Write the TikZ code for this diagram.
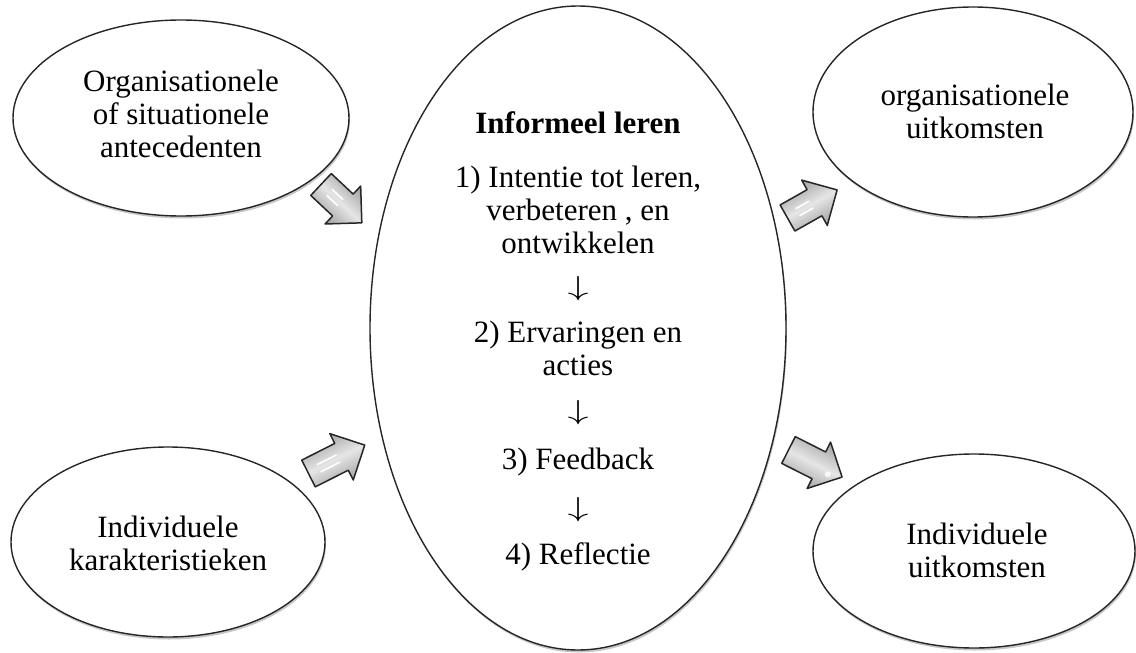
\documentclass[tikz,border=0pt]{standalone}
\usepackage{fontspec}
\setmainfont{Liberation Serif}
\usetikzlibrary{shapes.geometric,shadows,calc}

\tikzset{
  bubble/.style={ellipse, draw=black!85, line width=1.4pt, fill=white, inner sep=0pt,
    drop shadow={shadow xshift=1pt, shadow yshift=-2.5pt, opacity=0.22, fill=black}},
  lbl/.style={align=center, font=\fontsize{31}{33}\selectfont, inner sep=0pt, anchor=base},
  darr/.style={inner sep=0pt, anchor=center},
  blk/.style={draw=black!85, line width=1.5pt, line join=round,
    top color=black!38, bottom color=black!38, middle color=black!10},
  hl/.style={white, line width=1.6pt, line cap=round},
}

\newcommand{\blockarrow}[4]{% tail coordinate, angle, length, stripes (1/0)
  \begin{scope}[shift={(#1)}, rotate=#2]
    \draw[blk, shading angle=#2]
      (0,-15) -- (#3-26,-15) -- (#3-26,-26) -- (#3,0) -- (#3-26,26) -- (#3-26,15) -- (0,15) -- cycle;
    \ifnum#4=1
      \draw[hl] (12,-4) -- (#3-30,-4);
      \draw[hl] (12,4) -- (#3-30,4);
    \else
      \fill[white, opacity=0.8] (#3-14,4) circle (3);
    \fi
  \end{scope}}

\newcommand{\dnarrow}{\resizebox{21pt}{19pt}{$\downarrow$}}

\begin{document}
\begin{tikzpicture}[x=1pt,y=-1pt]
\useasboundingbox (0,0) rectangle (1136,653);

% ellipses
\node[bubble, minimum width=416pt, minimum height=644pt] (c) at (578,328) {};
\node[bubble, minimum width=336pt, minimum height=196pt] (tl) at (181,118) {};
\node[bubble, minimum width=314pt, minimum height=190pt] (bl) at (168,542) {};
\node[bubble, minimum width=320pt, minimum height=210pt] (tr) at (973,112) {};
\node[bubble, minimum width=322pt, minimum height=194pt] (br) at (974,551) {};

% texts (anchor = baseline of the last line)
\node[lbl] (tlt) at (181,157) {Organisationele\\of situationele\\antecedenten};
\node[lbl] (blt) at (168,570) {Individuele\\karakteristieken};
\node[lbl] (trt) at (975,138) {organisationele\\uitkomsten};
\node[lbl] (brt) at (977,577) {Individuele\\uitkomsten};

\node[lbl, font=\fontsize{31}{33}\selectfont\bfseries] (title) at (578,133) {Informeel leren};
\node[lbl] (i1) at (578,253) {1) Intentie tot leren,\\verbeteren , en\\ontwikkelen};
\node[darr] (d1) at (578,289) {\dnarrow};
\node[lbl] (i2) at (578,375) {2) Ervaringen en\\acties};
\node[darr] (d2) at (578,413) {\dnarrow};
\node[lbl] (i3) at (578,469) {3) Feedback};
\node[darr] (d3) at (578,510) {\dnarrow};
\node[lbl] (i4) at (578,564) {4) Reflectie};

% block arrows
\coordinate (a1) at (321,184.5);
\coordinate (a2) at (308.5,473.5);
\coordinate (a3) at (787.5,218);
\coordinate (a4) at (788.5,450);
\blockarrow{a1}{-43.2}{56}{1}
\blockarrow{a2}{26.8}{63}{1}
\blockarrow{a3}{29.5}{57}{1}
\blockarrow{a4}{-26.8}{60}{0}
\end{tikzpicture}
\end{document}
